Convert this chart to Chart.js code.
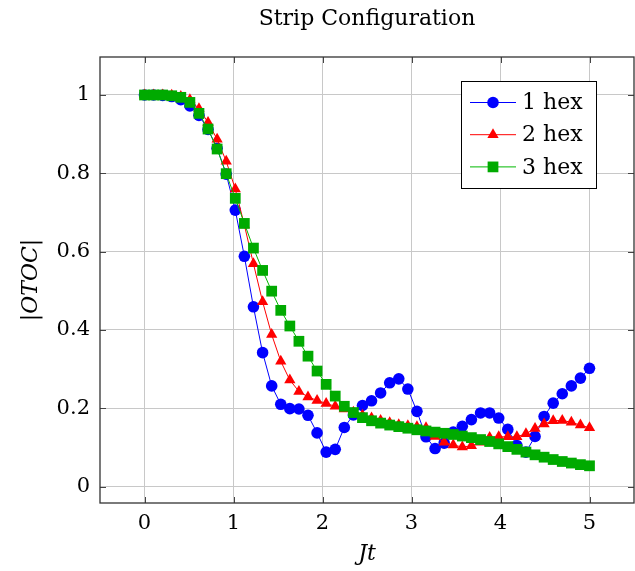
<!DOCTYPE html>
<html>
<head>
<meta charset="utf-8">
<script src="https://cdn.jsdelivr.net/npm/chart.js@4.4.1/dist/chart.umd.min.js"></script>
<style>
  html, body { margin: 0; padding: 0; background: #fff; }
  #wrap { width: 635px; height: 571px; }
</style>
</head>
<body>
<div id="wrap"><canvas id="chart" width="635" height="571"></canvas></div>
<script>
// time grid, 50 samples from 0 to 5
const times = [
    0.000, 0.102, 0.204, 0.306, 0.408, 0.510, 0.612, 0.714, 0.816, 0.918,
    1.020, 1.122, 1.224, 1.327, 1.429, 1.531, 1.633, 1.735, 1.837, 1.939,
    2.041, 2.143, 2.245, 2.347, 2.449, 2.551, 2.653, 2.755, 2.857, 2.959,
    3.061, 3.163, 3.265, 3.367, 3.469, 3.571, 3.673, 3.776, 3.878, 3.980,
    4.082, 4.184, 4.286, 4.388, 4.490, 4.592, 4.694, 4.796, 4.898, 5.000,
];

const hex1 = [
    1.000, 1.000, 0.999, 0.996, 0.988, 0.972, 0.948, 0.912, 0.864, 0.798,
    0.706, 0.588, 0.459, 0.342, 0.257, 0.210, 0.199, 0.198, 0.182, 0.137,
    0.088, 0.095, 0.151, 0.183, 0.207, 0.219, 0.239, 0.265, 0.275, 0.249,
    0.192, 0.127, 0.097, 0.111, 0.139, 0.154, 0.171, 0.188, 0.188, 0.175,
    0.146, 0.105, 0.088, 0.128, 0.179, 0.213, 0.237, 0.257, 0.277, 0.302,
];

const hex2 = [
    1.000, 1.000, 1.000, 0.999, 0.996, 0.988, 0.965, 0.930, 0.887, 0.831,
    0.760, 0.668, 0.569, 0.472, 0.388, 0.320, 0.272, 0.243, 0.229, 0.220,
    0.212, 0.205, 0.198, 0.190, 0.182, 0.175, 0.169, 0.163, 0.158, 0.155,
    0.153, 0.150, 0.128, 0.113, 0.106, 0.101, 0.104, 0.113, 0.125, 0.127,
    0.127, 0.127, 0.135, 0.148, 0.160, 0.168, 0.169, 0.164, 0.157, 0.150,
];

const hex3 = [
    1.000, 1.000, 1.000, 0.998, 0.994, 0.981, 0.953, 0.913, 0.862, 0.799,
    0.736, 0.672, 0.609, 0.552, 0.499, 0.450, 0.410, 0.371, 0.333, 0.295,
    0.261, 0.231, 0.205, 0.189, 0.176, 0.168, 0.162, 0.157, 0.153, 0.149,
    0.145, 0.142, 0.139, 0.136, 0.133, 0.129, 0.125, 0.120, 0.115, 0.109,
    0.102, 0.095, 0.088, 0.081, 0.075, 0.069, 0.064, 0.060, 0.056, 0.053,
];

const seriesLabels = ["1 hex", "2 hex", "3 hex"];
const xTicks = [0, 1, 2, 3, 4, 5];
const yTicks = [0, 0.2, 0.4, 0.6, 0.8, 1];
const chartTitle = "Strip Configuration";

const FONT = "'DejaVu Serif', 'Liberation Serif', serif";

const styles = [
    { color: "#0000ff", line: "#0000ff", pointStyle: "circle", radius: 5.8 },
    { color: "#ff0000", line: "#ff0000", pointStyle: "triangle", radius: 6.5 },
    { color: "#00aa00", line: "#00b800", pointStyle: "rect", radius: 7.6 },
];

function toPoints(values) {
    return values.map((v, i) => ({ x: times[i], y: v }));
}

// later series are painted on top, as in the original plot
const datasets = [hex1, hex2, hex3].map((values, index) => ({
    label: seriesLabels[index],
    data: toPoints(values),
    order: 3 - index,
    showLine: true,
    borderColor: styles[index].line,
    backgroundColor: styles[index].color,
    pointBorderColor: styles[index].color,
    pointBackgroundColor: styles[index].color,
    borderWidth: 1,
    pointBorderWidth: 0,
    pointStyle: styles[index].pointStyle,
    pointRadius: styles[index].radius,
    tension: 0,
}));

// title centred over the plot area, not the whole canvas
const plotTitle = {
    id: "plotTitle",
    afterDraw(chart) {
        const { ctx, chartArea } = chart;
        ctx.save();
        ctx.fillStyle = "#000";
        ctx.font = "22px " + FONT;
        ctx.textAlign = "center";
        ctx.textBaseline = "middle";
        ctx.fillText(chartTitle, (chartArea.left + chartArea.right) / 2, 19);
        ctx.restore();
    },
};

// pgfplots-like legend box in the upper right of the plot
const boxLegend = {
    id: "boxLegend",
    afterDatasetsDraw(chart) {
        const { ctx, chartArea } = chart;
        const w = 135, h = 107;
        const x0 = chartArea.right - 38 - w;
        const y0 = chartArea.top + 24;
        ctx.save();
        ctx.fillStyle = "#fff";
        ctx.fillRect(x0, y0, w, h);
        ctx.strokeStyle = "#000";
        ctx.lineWidth = 1;
        ctx.strokeRect(x0 + 0.5, y0 + 0.5, w, h);
        chart.data.datasets.forEach((ds, i) => {
            const cy = y0 + 21.5 + i * 32.2;
            ctx.strokeStyle = ds.borderColor;
            ctx.lineWidth = 1;
            ctx.beginPath();
            ctx.moveTo(x0 + 9, cy);
            ctx.lineTo(x0 + 55, cy);
            ctx.stroke();
            ctx.fillStyle = ds.pointBackgroundColor;
            Chart.helpers.drawPoint(ctx, {
                pointStyle: ds.pointStyle,
                radius: ds.pointRadius,
                borderWidth: 0,
            }, x0 + 32, cy);
            ctx.fillStyle = "#000";
            ctx.font = "22px " + FONT;
            ctx.textBaseline = "middle";
            ctx.textAlign = "left";
            ctx.fillText(ds.label, x0 + 61, cy + 1);
        });
        ctx.restore();
    },
};

// small inward ticks on all four sides
const innerTicks = {
    id: "innerTicks",
    afterDraw(chart) {
        const { ctx, chartArea, scales } = chart;
        const len = 6;
        ctx.save();
        ctx.strokeStyle = "#444";
        ctx.lineWidth = 1;
        ctx.beginPath();
        xTicks.forEach((t) => {
            const px = Math.round(scales.x.getPixelForValue(t)) + 0.5;
            ctx.moveTo(px, chartArea.bottom);
            ctx.lineTo(px, chartArea.bottom - len);
            ctx.moveTo(px, chartArea.top);
            ctx.lineTo(px, chartArea.top + len);
        });
        yTicks.forEach((t) => {
            const py = Math.round(scales.y.getPixelForValue(t)) + 0.5;
            ctx.moveTo(chartArea.left, py);
            ctx.lineTo(chartArea.left + len, py);
            ctx.moveTo(chartArea.right, py);
            ctx.lineTo(chartArea.right - len, py);
        });
        ctx.stroke();
        ctx.strokeStyle = "#333";
        ctx.lineWidth = 1.3;
        ctx.strokeRect(chartArea.left, chartArea.top,
            chartArea.right - chartArea.left, chartArea.bottom - chartArea.top);
        ctx.restore();
    },
};

new Chart(document.getElementById("chart").getContext("2d"), {
    type: "scatter",
    data: { datasets },
    plugins: [plotTitle, boxLegend, innerTicks],
    options: {
        responsive: false,
        animation: false,
        devicePixelRatio: 1,
        layout: {
            autoPadding: false,
            padding: { left: 0, right: 1, top: 57, bottom: 0 },
        },
        plugins: {
            legend: { display: false },
            tooltip: { enabled: false },
            title: { display: false },
        },
        scales: {
            x: {
                type: "linear",
                min: -0.5,
                max: 5.5,
                afterBuildTicks: (scale) => {
                    scale.ticks = xTicks.map((v) => ({ value: v }));
                },
                afterFit: (scale) => {
                    scale.height = 68;
                    scale.paddingLeft = 0;
                    scale.paddingRight = 0;
                },
                grid: { color: "#c8c8c8", lineWidth: 1, drawTicks: false },
                border: { display: false },
                ticks: {
                    color: "#000",
                    padding: 8,
                    font: { family: FONT, size: 21 },
                    maxRotation: 0,
                    callback: (v) => String(v),
                },
                title: {
                    display: true,
                    text: "Jt",
                    color: "#000",
                    font: { family: FONT, size: 22, style: "italic" },
                    padding: { top: 0, bottom: 4 },
                },
            },
            y: {
                type: "linear",
                min: -0.042,
                max: 1.097,
                afterBuildTicks: (scale) => {
                    scale.ticks = yTicks.map((v) => ({ value: v }));
                },
                afterFit: (scale) => {
                    scale.width = 100;
                    scale.paddingTop = 0;
                    scale.paddingBottom = 0;
                },
                grid: { color: "#c8c8c8", lineWidth: 1, drawTicks: false },
                border: { display: false },
                ticks: {
                    color: "#000",
                    padding: 10,
                    font: { family: FONT, size: 21 },
                    callback: (v) => String(Math.round(v * 10) / 10),
                },
                title: {
                    display: true,
                    text: "|OTOC|",
                    color: "#000",
                    font: { family: FONT, size: 22, style: "italic" },
                    padding: { top: 18, bottom: 0 },
                },
            },
        },
    },
});
</script>
</body>
</html>
